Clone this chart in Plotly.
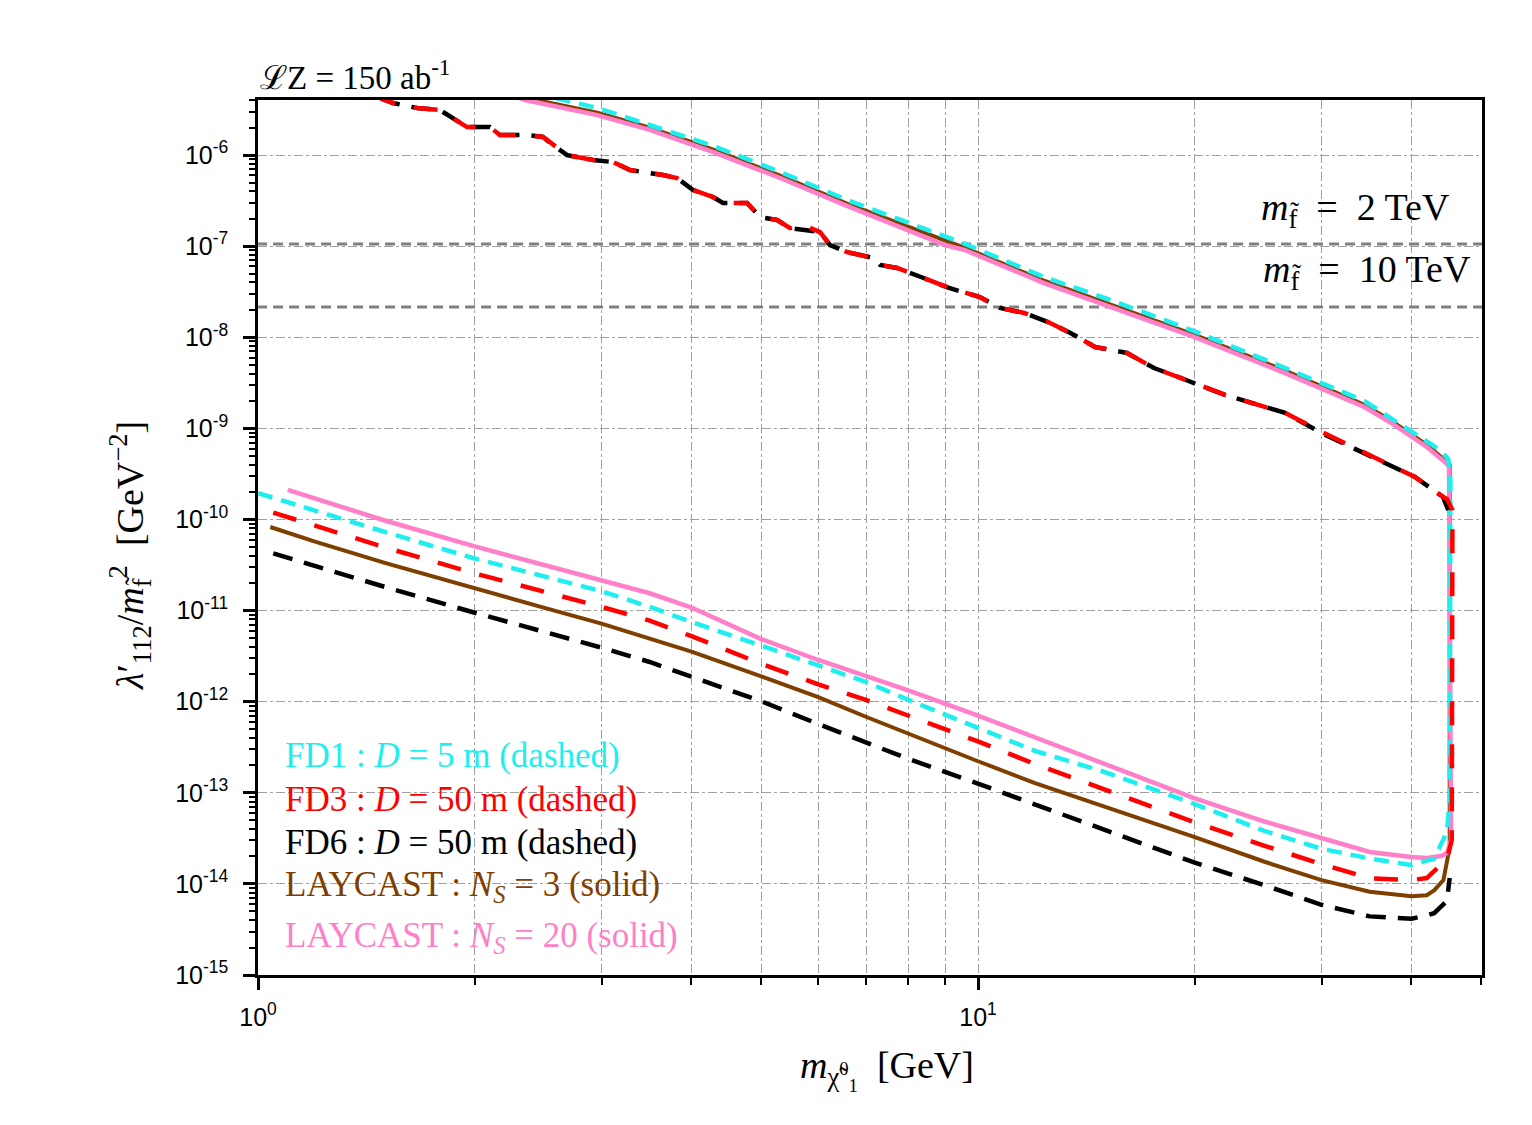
import plotly.graph_objects as go

# ---------------- data ----------------
# LAYCAST N_S = 20 (pink, solid): lower branch -> vertical -> upper branch
pink_x = [1.1, 1.2, 1.5, 2, 2.5, 3, 3.5, 4, 5, 6, 7, 8, 10, 12, 15, 20, 25, 30, 35, 40, 42, 44, 44.8, 45.4,
          45.1, 44.5, 42, 37.35, 34.4, 26.7, 19.95, 15.3, 12.35, 9.59, 9.0, 6.64, 5.31, 4.29, 3.50, 2.96, 2.35, 2.24]
pink_y = [2.11e-10, 1.70e-10, 9.75e-11, 5.06e-11, 3.14e-11, 2.13e-11, 1.55e-11, 1.08e-11, 4.87e-12, 2.87e-12,
          1.91e-12, 1.33e-12, 7.03e-13, 4.06e-13, 2.03e-13, 8.71e-14, 4.84e-14, 3.19e-14, 2.24e-14, 1.97e-14,
          1.92e-14, 2.02e-14, 2.18e-14, 3.03e-14,
          3.86e-10, 4.28e-10, 6.25e-10, 1.17e-9, 1.72e-9, 4.05e-9, 1.01e-8, 2.15e-8, 3.94e-8, 9.08e-8, 1.03e-7,
          2.69e-7, 5.61e-7, 1.08e-6, 1.89e-6, 2.75e-6, 4.03e-6, 4.6e-6]

# LAYCAST N_S = 3 (brown, solid)
brown_x = [1.04, 1.2, 1.5, 2, 2.5, 3, 3.5, 4, 5, 6, 7, 8, 10, 12, 15, 20, 25, 30, 35, 40, 42, 43, 44.3, 45.2,
           45.2, 44.5, 42, 37.35, 34.4, 26.7, 19.95, 15.3, 12.35, 9.59, 6.64, 5.31, 4.29, 3.50, 2.96, 2.35, 2.24]
brown_y = [8.28e-11, 5.71e-11, 3.34e-11, 1.74e-11, 1.07e-11, 7.19e-12, 4.93e-12, 3.54e-12, 1.90e-12, 1.12e-12,
           6.79e-13, 4.46e-13, 2.22e-13, 1.28e-13, 7.06e-14, 3.27e-14, 1.75e-14, 1.10e-14, 8.22e-15, 7.33e-15,
           7.52e-15, 8.49e-15, 1.10e-14, 2.54e-14,
           4.0e-10, 4.5e-10, 6.6e-10, 1.24e-9, 1.82e-9, 4.3e-9, 1.07e-8, 2.28e-8, 4.18e-8, 9.6e-8, 2.85e-7,
           5.95e-7, 1.15e-6, 2.0e-6, 2.92e-6, 4.27e-6, 4.9e-6]

# FD1 : D = 5 m (cyan, dashed)
cyan_x = [1.0, 1.2, 1.5, 2, 2.5, 3, 3.5, 4, 5, 6, 7, 8, 10, 12, 15, 20, 25, 30, 35, 40, 42, 43, 44, 44.8, 45.2,
          45.3, 45.0, 43.8, 42, 37.35, 34.4, 26.7, 19.95, 15.3, 12.35, 9.59, 6.64, 5.31, 4.29, 3.50, 2.96, 2.585]
cyan_y = [1.95e-10, 1.24e-10, 7.30e-11, 3.73e-11, 2.35e-11, 1.63e-11, 1.10e-11, 7.50e-12, 4.13e-12, 2.52e-12,
          1.64e-12, 1.05e-12, 5.08e-13, 2.88e-13, 1.69e-13, 7.53e-14, 3.81e-14, 2.43e-14, 1.90e-14, 1.61e-14,
          1.80e-14, 1.88e-14, 2.77e-14, 3.72e-14, 8.34e-14,
          2.72e-10, 4.6e-10, 5.8e-10, 7.2e-10, 1.33e-9, 2.00e-9, 4.60e-9, 1.17e-8, 2.56e-8, 4.59e-8, 1.06e-7,
          3.13e-7, 6.53e-7, 1.26e-6, 2.14e-6, 3.29e-6, 4.24e-6]

# FD3 : D = 50 m (red, dashed)
red_x = [1.05, 1.2, 1.5, 2, 2.5, 3, 3.5, 4, 5, 6, 7, 8, 10, 12, 15, 20, 25, 30, 35, 40, 42, 44, 44.8, 45.5,
         45.6, 44.8, 44.24, 40.45, 34.37, 30.24, 26.70, 22.03, 19.45, 17.56, 16.10, 14.54, 13.46, 12.51, 11.59,
         10.73, 10.06, 9.114, 8.333, 7.720, 7.311, 7.151, 6.579, 6.230, 6.034, 5.715, 5.483, 5.259, 4.981, 4.778,
         4.424, 4.284, 4.019, 3.819, 3.651, 3.286, 3.112, 2.920, 2.687, 2.569, 2.488, 2.364, 2.168, 2.100, 1.951,
         1.789, 1.663, 1.540, 1.48]
red_y = [1.19e-10, 8.57e-11, 4.95e-11, 2.56e-11, 1.61e-11, 1.10e-11, 7.76e-12, 5.24e-12, 2.61e-12, 1.55e-12,
         1.04e-12, 7.11e-13, 3.66e-13, 2.07e-13, 1.09e-13, 4.74e-14, 2.62e-14, 1.65e-14, 1.15e-14, 1.10e-14,
         1.16e-14, 1.63e-14, 1.87e-14, 3.03e-14,
         1.27e-10, 1.68e-10, 1.77e-10, 2.93e-10, 5.37e-10, 8.89e-10, 1.48e-9, 2.33e-9, 3.40e-9, 4.60e-9, 6.73e-9,
         7.83e-9, 1.11e-8, 1.47e-8, 1.85e-8, 2.10e-8, 2.77e-8, 3.48e-8, 4.59e-8, 5.77e-8, 6.22e-8, 7.43e-8,
         8.63e-8, 1.03e-7, 1.43e-7, 1.71e-7, 1.58e-7, 1.94e-7, 2.09e-7, 2.98e-7, 2.98e-7, 3.47e-7, 4.14e-7,
         5.61e-7, 6.05e-7, 6.86e-7, 8.39e-7, 8.83e-7, 1.00e-6, 1.29e-6, 1.58e-6, 1.66e-6, 1.66e-6, 2.03e-6,
         2.03e-6, 3.13e-6, 3.29e-6, 3.73e-6, 4.2e-6]

# FD6 : D = 50 m (black, dashed) : lower branch, gap, upper branch
black_x = [1.05, 1.2, 1.5, 2, 2.5, 3, 3.5, 4, 5, 6, 7, 8, 10, 12, 15, 20, 25, 30, 35, 40, 42, 43, 44.8, 45.2,
           None,
           45.0, 44.24, 40.45, 34.37, 30.24, 26.70, 22.03, 19.45, 17.56, 16.10, 14.54, 13.46, 12.51, 11.59,
           10.73, 10.06, 9.114, 8.333, 7.720, 7.311, 7.151, 6.579, 6.230, 6.034, 5.715, 5.483, 5.259, 4.981, 4.778,
           4.424, 4.284, 4.019, 3.819, 3.651, 3.286, 3.112, 2.920, 2.687, 2.569, 2.488, 2.364, 2.168, 2.100, 1.951,
           1.789, 1.663, 1.540, 1.48]
black_y = [4.25e-11, 3.06e-11, 1.82e-11, 9.48e-12, 5.86e-12, 3.92e-12, 2.73e-12, 1.89e-12, 1.01e-12, 5.69e-13,
           3.55e-13, 2.36e-13, 1.26e-13, 7.48e-14, 3.91e-14, 1.71e-14, 9.66e-15, 5.90e-15, 4.40e-15, 4.14e-15,
           4.51e-15, 4.77e-15, 6.49e-15, 1.16e-14,
           None,
           1.27e-10, 1.77e-10, 2.93e-10, 5.37e-10, 8.6e-10, 1.48e-9, 2.33e-9, 3.40e-9, 4.60e-9, 6.73e-9,
           7.83e-9, 1.11e-8, 1.47e-8, 1.85e-8, 2.10e-8, 2.77e-8, 3.48e-8, 4.59e-8, 5.77e-8, 6.22e-8, 7.43e-8,
           8.63e-8, 1.03e-7, 1.43e-7, 1.50e-7, 1.58e-7, 1.94e-7, 2.09e-7, 2.98e-7, 2.98e-7, 3.47e-7, 4.14e-7,
           5.61e-7, 6.05e-7, 6.86e-7, 8.39e-7, 8.83e-7, 1.00e-6, 1.29e-6, 1.58e-6, 1.66e-6, 1.66e-6, 2.03e-6,
           2.03e-6, 3.13e-6, 3.29e-6, 3.73e-6, 4.2e-6]

# horizontal reference levels (m_f = 2 TeV, 10 TeV)
mf_levels = [1.06e-7, 2.15e-8]
mf_labels = ["<i>m</i><sub>f̃</sub>  =  2 TeV", "<i>m</i><sub>f̃</sub>  =  10 TeV"]
level_x = [0.9, 60]

# axis tick labels
x_tickvals = [1, 10]
x_ticktext = ["10<sup>0</sup>", "10<sup>1</sup>"]
y_exps = [-15, -14, -13, -12, -11, -10, -9, -8, -7, -6]
y_tickvals = [10.0 ** e for e in y_exps]
y_ticktext = ["10<sup>%d</sup>" % e for e in y_exps]

legend_lines = [
    ("FD1 : <i>D</i> = 5 m (dashed)", "#1EEEEE"),
    ("FD3 : <i>D</i> = 50 m (dashed)", "#FF0000"),
    ("FD6 : <i>D</i> = 50 m (dashed)", "#000000"),
    ("LAYCAST : <i>N<sub>S</sub></i> = 3 (solid)", "#7F3F00"),
    ("LAYCAST : <i>N<sub>S</sub></i> = 20 (solid)", "#FF80C8"),
]

# ---------------- figure ----------------
fig = go.Figure()

for lv in mf_levels:
    fig.add_trace(go.Scatter(x=level_x, y=[lv, lv], mode="lines",
                             line=dict(color="#808080", width=3, dash="10px,6px"),
                             showlegend=False, hoverinfo="skip"))

fig.add_trace(go.Scatter(x=brown_x, y=brown_y, mode="lines",
                         line=dict(color="#7F3F00", width=4), showlegend=False))
fig.add_trace(go.Scatter(x=pink_x, y=pink_y, mode="lines",
                         line=dict(color="#FF80C8", width=4.5), showlegend=False))
fig.add_trace(go.Scatter(x=cyan_x, y=cyan_y, mode="lines",
                         line=dict(color="#1EEEEE", width=4.5, dash="15px,9px"), showlegend=False))
fig.add_trace(go.Scatter(x=black_x, y=black_y, mode="lines", connectgaps=False,
                         line=dict(color="#000000", width=4.5, dash="20px,12px"), showlegend=False))
fig.add_trace(go.Scatter(x=red_x, y=red_y, mode="lines",
                         line=dict(color="#FF0000", width=4.5, dash="24px,19px"), showlegend=False))

tick_font = dict(family="Liberation Sans, Arial", size=25, color="black")

fig.update_xaxes(type="log", range=[0, 1.7], tickvals=x_tickvals, ticktext=x_ticktext,
                 tickfont=tick_font, ticks="outside", ticklen=12, tickwidth=2.5, tickcolor="black",
                 ticklabelstandoff=6,
                 showline=True, linecolor="black", linewidth=2.5, mirror=True,
                 showgrid=True, gridcolor="#A0A0A0", gridwidth=1, griddash="dashdot",
                 minor=dict(dtick="D1", ticks="outside", ticklen=7, tickwidth=2, tickcolor="black",
                            showgrid=True, gridcolor="#A0A0A0", gridwidth=1, griddash="dashdot"),
                 zeroline=False)
fig.update_yaxes(type="log", range=[-15, -5.395], tickvals=y_tickvals, ticktext=y_ticktext,
                 tickfont=tick_font, ticks="outside", ticklen=12, tickwidth=2.5, tickcolor="black",
                 ticklabelstandoff=10,
                 showline=True, linecolor="black", linewidth=2.5, mirror=True,
                 showgrid=True, gridcolor="#A0A0A0", gridwidth=1, griddash="dashdot",
                 minor=dict(dtick="D1", ticks="outside", ticklen=6, tickwidth=1.5, tickcolor="black",
                            showgrid=False),
                 zeroline=False)

ann = []
serif = "Liberation Serif, Times New Roman, serif"
# top-left luminosity label
ann.append(dict(text="ℒZ = 150 ab<sup>-1</sup>", x=0, y=1.0286, xref="paper", yref="paper",
                xanchor="left", yanchor="middle", showarrow=False,
                font=dict(family=serif, size=33, color="black")))
# m_f labels
ann.append(dict(text=mf_labels[0], x=0.9755, y=0.874, xref="paper", yref="paper",
                xanchor="right", yanchor="middle", showarrow=False,
                font=dict(family=serif, size=38, color="black")))
ann.append(dict(text=mf_labels[1], x=0.9926, y=0.8034, xref="paper", yref="paper",
                xanchor="right", yanchor="middle", showarrow=False,
                font=dict(family=serif, size=38, color="black")))
# legend lines
leg_y = [0.2514, 0.2011, 0.1509, 0.1017, 0.0423]
for (txt, col), yy in zip(legend_lines, leg_y):
    ann.append(dict(text=txt, x=0.0204, y=yy, xref="paper", yref="paper",
                    xanchor="left", yanchor="middle", showarrow=False,
                    font=dict(family=serif, size=35, color=col)))
# axis titles
ann.append(dict(text="<i>m</i><sub>χ̃<sup>0</sup><sub>1</sub></sub>  [GeV]", x=0.514, y=-0.1086,
                xref="paper", yref="paper",
                xanchor="center", yanchor="middle", showarrow=False,
                font=dict(family=serif, size=38, color="black")))
ann.append(dict(text="<i>λ</i>′<sub>112</sub>/<i>m</i><sub>f̃</sub><sup>2</sup>  [GeV<sup>−2</sup>]",
                x=-0.1046, y=0.48, xref="paper", yref="paper", textangle=-90,
                xanchor="center", yanchor="middle", showarrow=False,
                font=dict(family=serif, size=38, color="black")))

# the page adds an 8px body margin; shift margins so the plot area lands where the reference has it
fig.update_layout(width=1532, height=1125, margin=dict(l=250, r=58, t=92, b=158),
                  plot_bgcolor="white", paper_bgcolor="white", annotations=ann, showlegend=False)

fig.write_html("out.html")
